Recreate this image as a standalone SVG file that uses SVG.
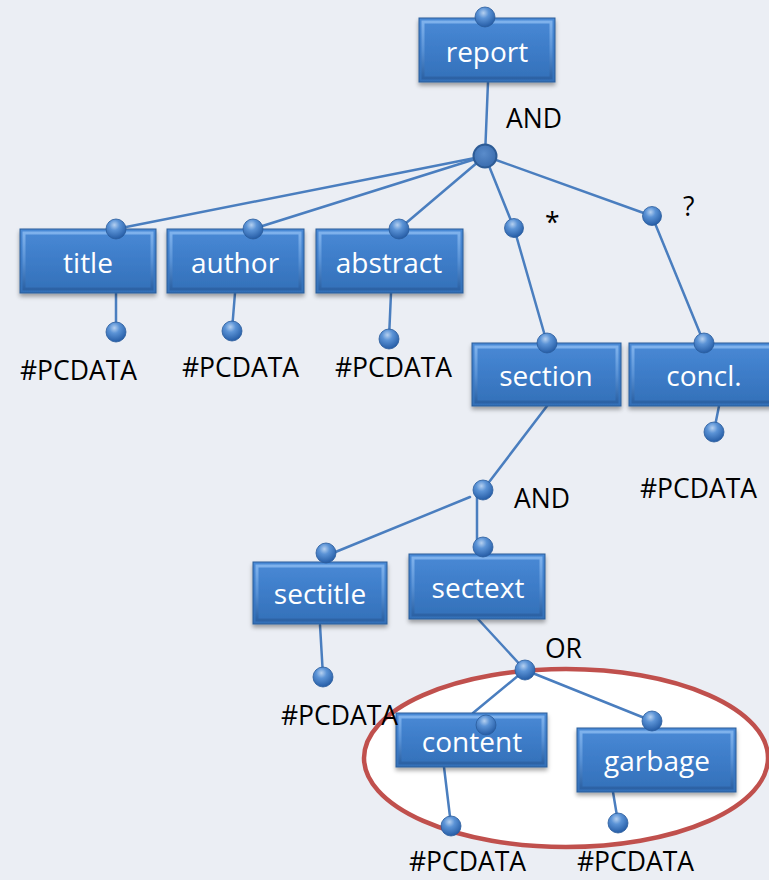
<svg xmlns="http://www.w3.org/2000/svg" width="769" height="880" viewBox="0 0 769 880">
  <defs>
    <linearGradient id="boxFill" x1="0" y1="0" x2="0" y2="1">
      <stop offset="0" stop-color="#4A8AD6"/>
      <stop offset="0.5" stop-color="#3D7CC8"/>
      <stop offset="1" stop-color="#3370B8"/>
    </linearGradient>
    <linearGradient id="bevelStroke" x1="0" y1="0" x2="0" y2="1">
      <stop offset="0" stop-color="#8CBCF2"/>
      <stop offset="0.5" stop-color="#5E96D8"/>
      <stop offset="1" stop-color="#2A5E9F"/>
    </linearGradient>
    <radialGradient id="ball" cx="0.42" cy="0.3" r="0.75">
      <stop offset="0" stop-color="#B5D0F0"/>
      <stop offset="0.35" stop-color="#5B93D6"/>
      <stop offset="1" stop-color="#1F56A0"/>
    </radialGradient>
    <radialGradient id="hub" cx="0.45" cy="0.4" r="0.6">
      <stop offset="0" stop-color="#5A8CCB"/>
      <stop offset="1" stop-color="#3A6CAE"/>
    </radialGradient>
    <filter id="shadow" x="-10%" y="-10%" width="120%" height="140%">
      <feDropShadow dx="0" dy="3" stdDeviation="2" flood-color="#000" flood-opacity="0.35"/>
    </filter>
  </defs>
  <style>
    .box { fill: url(#boxFill); stroke: #2B5C99; stroke-width: 1; filter: url(#shadow); }
    .bevel { fill: none; stroke: url(#bevelStroke); stroke-width: 3; opacity: 0.8; }
    .ball { fill: url(#ball); stroke: #2A5C9C; stroke-width: 0.8; }
    .hub { fill: url(#hub); stroke: #2D5B95; stroke-width: 2; }
    .edge { stroke: #4A7EBF; stroke-width: 2.5; fill: none; stroke-linecap: round; }
    .lbl { font-family: "Open Sans", "Liberation Sans", sans-serif; font-size: 28px; fill: #FFFFFF; text-anchor: middle; }
    .txt { font-family: "Open Sans", "Liberation Sans", sans-serif; font-size: 26.5px; fill: #000000; }
  </style>

  <rect width="769" height="880" fill="#EBEEF4"/>

  <!-- highlight ring around the OR alternatives -->
  <ellipse id="highlight" cx="566" cy="758" rx="202" ry="89" fill="#FFFFFF" stroke="#C0504D" stroke-width="4.5"/>

  <!-- connectors -->
  <g id="connectors">
    <line class="edge" x1="488" y1="82" x2="485" y2="156"/>
    <line class="edge" x1="485" y1="156" x2="116" y2="229"/>
    <line class="edge" x1="485" y1="156" x2="253" y2="229"/>
    <line class="edge" x1="485" y1="156" x2="399" y2="229"/>
    <line class="edge" x1="485" y1="156" x2="514" y2="228"/>
    <line class="edge" x1="485" y1="156" x2="652" y2="216"/>
    <line class="edge" x1="514" y1="228" x2="547" y2="343"/>
    <line class="edge" x1="652" y1="216" x2="704" y2="343"/>
    <line class="edge" x1="116" y1="293" x2="116" y2="331"/>
    <line class="edge" x1="235" y1="293" x2="232" y2="330"/>
    <line class="edge" x1="391" y1="293" x2="389" y2="338"/>
    <line class="edge" x1="719" y1="406" x2="714" y2="431"/>
    <line class="edge" x1="547" y1="406" x2="483" y2="490"/>
    <line class="edge" x1="470" y1="497" x2="333" y2="553"/>
    <line class="edge" x1="477" y1="497" x2="477" y2="546"/>
    <line class="edge" x1="320" y1="625" x2="323" y2="676"/>
    <line class="edge" x1="478" y1="619" x2="525" y2="670"/>
    <line class="edge" x1="525" y1="670" x2="473" y2="713"/>
    <line class="edge" x1="525" y1="670" x2="652" y2="721"/>
    <line class="edge" x1="444" y1="767" x2="451" y2="825"/>
    <line class="edge" x1="613" y1="792" x2="618" y2="822"/>
  </g>

  <!-- junctions -->
  <g id="junctions">
    <circle class="hub" cx="485" cy="156" r="11.5"/>
    <circle class="ball" cx="514" cy="228" r="9.5"/>
    <circle class="ball" cx="652" cy="216" r="9.5"/>
    <circle class="ball" cx="483" cy="490" r="10"/>
    <circle class="ball" cx="525" cy="670" r="10"/>
  </g>

  <!-- operator labels -->
  <g id="operators">
    <text class="txt" x="506" y="128">AND</text>
    <text class="txt" x="545" y="232">*</text>
    <text class="txt" x="683" y="216">?</text>
    <text class="txt" x="514" y="508">AND</text>
    <text class="txt" x="545" y="658">OR</text>
  </g>

  <g id="report">
    <rect class="box" x="419" y="18" width="136" height="64"/>
    <rect class="bevel" x="423" y="22" width="128" height="56"/>
    <circle class="ball" cx="485" cy="17" r="10"/>
    <text class="lbl" x="487" y="62">report</text>
  </g>

  <g id="title">
    <rect class="box" x="20" y="229" width="136" height="64"/>
    <rect class="bevel" x="24" y="233" width="128" height="56"/>
    <circle class="ball" cx="116" cy="229" r="10"/>
    <text class="lbl" x="88" y="273">title</text>
    <circle class="ball" cx="116" cy="332" r="10"/>
    <text class="txt" x="20" y="380">#PCDATA</text>
  </g>

  <g id="author">
    <rect class="box" x="167" y="229" width="137" height="64"/>
    <rect class="bevel" x="171" y="233" width="129" height="56"/>
    <circle class="ball" cx="253" cy="229" r="10"/>
    <text class="lbl" x="235" y="273">author</text>
    <circle class="ball" cx="232" cy="331" r="10"/>
    <text class="txt" x="182" y="377">#PCDATA</text>
  </g>

  <g id="abstract">
    <rect class="box" x="316" y="229" width="147" height="64"/>
    <rect class="bevel" x="320" y="233" width="139" height="56"/>
    <circle class="ball" cx="399" cy="229" r="10"/>
    <text class="lbl" x="389" y="273">abstract</text>
    <circle class="ball" cx="389" cy="339" r="10"/>
    <text class="txt" x="335" y="377">#PCDATA</text>
  </g>

  <g id="section">
    <rect class="box" x="472" y="343" width="149" height="63"/>
    <rect class="bevel" x="476" y="347" width="141" height="55"/>
    <circle class="ball" cx="547" cy="343" r="10"/>
    <text class="lbl" x="546" y="386">section</text>
  </g>

  <g id="concl">
    <rect class="box" x="629" y="343" width="150" height="63"/>
    <rect class="bevel" x="633" y="347" width="142" height="55"/>
    <circle class="ball" cx="704" cy="343" r="10"/>
    <text class="lbl" x="704" y="386">concl.</text>
    <circle class="ball" cx="714" cy="432" r="10"/>
    <text class="txt" x="640" y="498">#PCDATA</text>
  </g>

  <g id="sectitle">
    <rect class="box" x="253" y="562" width="134" height="62"/>
    <rect class="bevel" x="257" y="566" width="126" height="54"/>
    <circle class="ball" cx="326" cy="553" r="10"/>
    <text class="lbl" x="320" y="604">sectitle</text>
    <circle class="ball" cx="323" cy="677" r="10"/>
  </g>

  <g id="sectext">
    <rect class="box" x="409" y="554" width="136" height="65"/>
    <rect class="bevel" x="413" y="558" width="128" height="57"/>
    <circle class="ball" cx="483" cy="547" r="10"/>
    <text class="lbl" x="478" y="598">sectext</text>
  </g>

  <g id="content">
    <rect class="box" x="396" y="713" width="151" height="54"/>
    <rect class="bevel" x="400" y="717" width="143" height="46"/>
    <circle class="ball" cx="486" cy="725" r="10"/>
    <text class="lbl" x="472" y="752">content</text>
    <circle class="ball" cx="451" cy="826" r="10"/>
    <text class="txt" x="409" y="871">#PCDATA</text>
  </g>

  <g id="garbage">
    <rect class="box" x="577" y="728" width="159" height="64"/>
    <rect class="bevel" x="581" y="732" width="151" height="56"/>
    <circle class="ball" cx="652" cy="721" r="10"/>
    <text class="lbl" x="657" y="771">garbage</text>
    <circle class="ball" cx="618" cy="823" r="10"/>
    <text class="txt" x="577" y="871">#PCDATA</text>
  </g>

  <!-- label for sectitle text content, drawn over the ring -->
  <g id="sectitle-data">
    <text class="txt" x="281" y="725">#PCDATA</text>
  </g>
</svg>
